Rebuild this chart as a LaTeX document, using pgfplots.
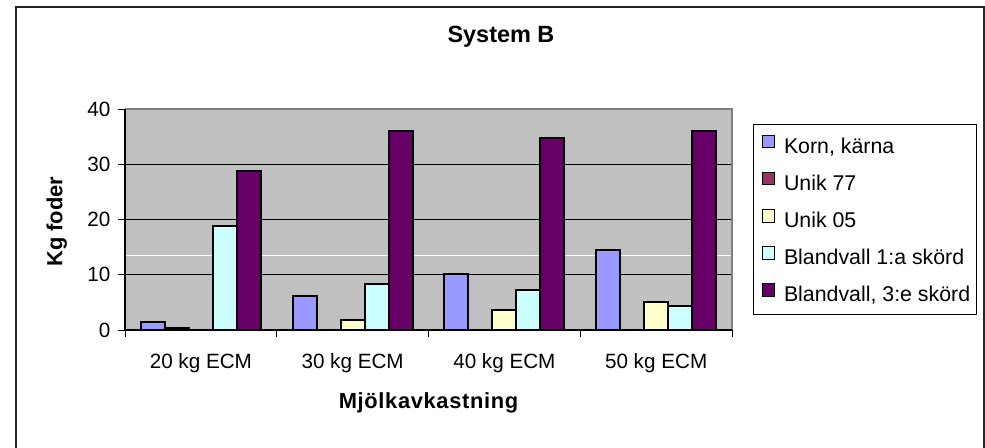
\documentclass[border=0pt]{standalone}
\usepackage{fontspec}
\setmainfont{Liberation Sans}
\usepackage{pgfplots}
\pgfplotsset{compat=1.18}
\definecolor{cKorn}{RGB}{153,153,255}
\definecolor{cUa}{RGB}{153,51,102}
\definecolor{cUb}{RGB}{255,255,204}
\definecolor{cBa}{RGB}{204,255,255}
\definecolor{cBb}{RGB}{102,0,102}
\definecolor{plotgray}{RGB}{192,192,192}
\definecolor{bordergray}{RGB}{128,128,128}
\begin{document}
\begin{tikzpicture}
\path (0pt,0pt) rectangle (738.75pt,335.25pt);
\draw[overlay, line width=1.1pt, black!85] (12pt,-3pt) -- (12pt,330pt) -- (738pt,330pt) -- (738pt,-3pt);
\begin{axis}[
  at={(93.75pt,87.75pt)}, anchor=south west,
  scale only axis, width=455.25pt, height=165.75pt,
  xmin=-0.5, xmax=3.5, ymin=0, ymax=40,
  clip=false,
  axis background/.style={fill=plotgray},
  axis line style={draw=none},
  ybar, bar width=0.158,
  xtick={-0.5,0.5,1.5,2.5,3.5},
  x tick label as interval,
  xticklabels={20 kg ECM,30 kg ECM,40 kg ECM,50 kg ECM},
  xticklabel style={yshift=-9pt},
  yticklabel style={xshift=-2.25pt},
  ytick={0,10,20,30,40},
  ymajorgrids, major grid style={black, line width=0.75pt},
  extra y ticks={13.5}, extra y tick labels={},
  extra y tick style={grid=major, major grid style={white, line width=0.75pt}, major tick length=0pt},
  tick align=outside, xtick pos=bottom, ytick pos=left,
  major tick length=5.25pt,
  tick style={black, line width=0.75pt},
  /pgf/number format/assume math mode=true,
  tick label style={font=\fontsize{15.5}{18}\selectfont},
  title={\bfseries System B},
  title style={font=\fontsize{17.6}{20}\selectfont, at={(axis description cs:0.6194,1.2896)}, anchor=center},
  ylabel={\bfseries Kg foder},
  ylabel style={font=\fontsize{16.4}{19}\selectfont, at={(axis description cs:-0.1125,0.49)}, anchor=center},
  xlabel={\bfseries\addfontfeature{LetterSpace=3}Mjölkavkastning},
  xlabel style={font=\fontsize{16.4}{19}\selectfont, at={(axis description cs:0.5,-0.330)}, anchor=center},
  legend style={at={(axis description cs:1.0362,0.932)}, anchor=north west,
    draw=none, fill=none,
    font=\fontsize{16}{19}\selectfont,
    inner xsep=5.5pt, inner ysep=7.8pt, row sep=11.1pt,
    nodes={inner sep=0pt, text height=11pt, text depth=3pt},
    cells={anchor=west}},
  legend image code/.code={\draw[#1, line width=0.75pt, draw=black] (0pt,0pt) rectangle (9.4pt,9.4pt); \path (15.7pt,0pt);},
]
\addplot[fill=cKorn, draw=black, line width=1.5pt, bar shift=-0.316] coordinates {(0,1.4) (1,6.2) (2,10.2) (3,14.4)};
\addplot[fill=cUa, draw=black, line width=1.5pt, bar shift=-0.158] coordinates {(0,0.3) (1,0) (2,0) (3,0)};
\addplot[fill=cUb, draw=black, line width=1.5pt, bar shift=0] coordinates {(0,0) (1,1.75) (2,3.6) (3,5.1)};
\addplot[fill=cBa, draw=black, line width=1.5pt, bar shift=0.158] coordinates {(0,18.8) (1,8.4) (2,7.2) (3,4.3)};
\addplot[fill=cBb, draw=black, line width=1.5pt, bar shift=0.316] coordinates {(0,28.7) (1,36.0) (2,34.8) (3,36.0)};
\legend{{Korn, kärna},Unik 77,Unik 05,Blandvall 1:a skörd,{Blandvall, 3:e skörd}}
\draw[bordergray, line width=1.1pt] (rel axis cs:0,1) -- (rel axis cs:1,1) -- (rel axis cs:1,0);
\draw[black, line width=0.9pt] (rel axis cs:0,1) -- (rel axis cs:0,0) -- (rel axis cs:1,0);
\draw[black, line width=0.75pt] (rel axis cs:1.0362,0.932) rectangle (rel axis cs:1.4036,0.0724);
\end{axis}
\end{tikzpicture}
\end{document}
